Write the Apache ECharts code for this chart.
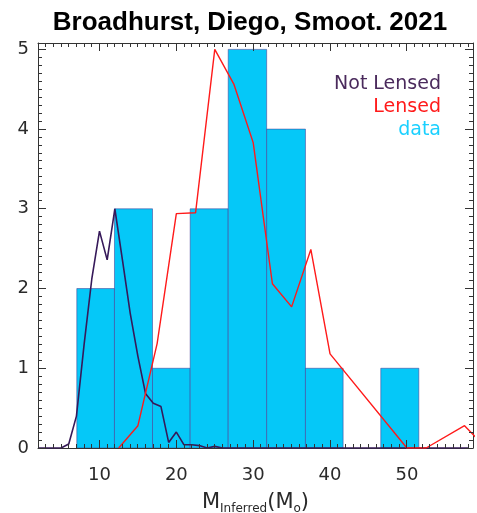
<!DOCTYPE html>
<html>
<head>
<meta charset="utf-8">
<title>Broadhurst, Diego, Smoot. 2021</title>
<script src="https://cdn.jsdelivr.net/npm/echarts@6/dist/echarts.min.js"></script>
<style>
  html, body { margin: 0; padding: 0; background: #ffffff; }
  #chart { width: 477px; height: 513px; }
</style>
</head>
<body>
<div id="chart"></div>
<script>
// Histogram of inferred masses: bin edges and counts
const binEdges = [7.05, 11.95, 16.9, 21.8, 26.75, 31.75, 36.8, 41.7, 46.6, 51.55];
const binCounts = [2, 3, 1, 3, 5, 4, 1, 0, 1];

// Model curves as [mass, value] pairs
const notLensed = [
  [2, 0], [3, 0], [4, 0], [5, 0], [6, 0.05], [7, 0.4], [8, 1.3], [9, 2.12],
  [10, 2.72], [11, 2.36], [12, 3.0], [13, 2.35], [14, 1.69], [15, 1.15],
  [16, 0.68], [17, 0.56], [18, 0.52], [19, 0.07], [20, 0.2], [21, 0.04],
  [22, 0.04], [23, 0.03], [24, 0], [25, 0.02], [26, 0], [58, 0]
];
const lensed = [
  [12.5, 0], [15, 0.28], [17.5, 1.31], [20, 2.94], [22.5, 2.95], [25, 5.0],
  [27.5, 4.56], [30, 3.83], [32.5, 2.06], [35, 1.77], [37.5, 2.49], [40, 1.18],
  [50, 0], [52.5, 0], [57.5, 0.28], [60, 0.03]
];

// Axis tick values
const xMajorTicks = [10, 20, 30, 40, 50];
const yMajorTicks = [0, 1, 2, 3, 4, 5];
const legendItems = ['Not Lensed', 'Lensed', 'data'];

const X_MIN = 2, X_MAX = 58.6, Y_MIN = 0, Y_MAX = 5.08;
const MAJOR_LEN = 8, MINOR_LEN = 4;
const frameColor = '#333333';
const labelFont = { color: '#2a2a2a', fontFamily: 'DejaVu Sans', fontSize: 18 };

// Minor ticks: every unit along x, every tenth along y
const xMinorTicks = [];
for (let v = Math.ceil(X_MIN); v <= Math.floor(X_MAX); v++) {
  if (xMajorTicks.indexOf(v) < 0) xMinorTicks.push(v);
}
const yMinorTicks = [];
for (let i = 1; i < 50; i++) { if (i % 10 !== 0) yMinorTicks.push(i / 10); }

// Tick marks on all four sides of the frame, pointing inward
const xTickData = xMajorTicks.map(v => [v, Y_MIN, MAJOR_LEN])
  .concat(xMinorTicks.map(v => [v, Y_MIN, MINOR_LEN]));
const yTickData = yMajorTicks.map(v => [X_MIN, v, MAJOR_LEN])
  .concat(yMinorTicks.map(v => [X_MIN, v, MINOR_LEN]));

const crisp = p => Math.round(p - 0.5) + 0.5;

function frameAxis(position, min, max, extra) {
  return Object.assign({
    type: 'value', position: position, min: min, max: max,
    axisLine: { show: true, onZero: false, lineStyle: { color: frameColor, width: 1 } },
    axisTick: { show: false },
    axisLabel: { show: false },
    splitLine: { show: false }
  }, extra || {});
}

const chart = echarts.init(document.getElementById('chart'), null, { renderer: 'canvas' });

chart.setOption({
  animation: false,
  backgroundColor: '#ffffff',
  grid: { left: 38, right: 4, top: 43, bottom: 65, containLabel: false, outerBoundsMode: 'none' },
  xAxis: [
    frameAxis('bottom', X_MIN, X_MAX, {
      axisLabel: Object.assign({ show: true, customValues: xMajorTicks, margin: 18 }, labelFont),
      name: '{m|M}{s|Inferred}{m|(M}{s|o}{m|)}',
      nameLocation: 'middle',
      nameGap: 43,
      nameTextStyle: {
        rich: {
          m: { fontFamily: 'DejaVu Sans', fontSize: 21, color: '#2a2a2a', lineHeight: 24, verticalAlign: 'middle' },
          s: { fontFamily: 'DejaVu Sans', fontSize: 12, color: '#2a2a2a', lineHeight: 2, verticalAlign: 'bottom' }
        }
      }
    }),
    frameAxis('top', X_MIN, X_MAX)
  ],
  yAxis: [
    frameAxis('left', Y_MIN, Y_MAX, {
      axisLabel: Object.assign({ show: true, customValues: yMajorTicks, margin: 9 }, labelFont)
    }),
    frameAxis('right', Y_MIN, Y_MAX)
  ],
  graphic: [
    { type: 'text', z: 10,
      style: { text: 'Broadhurst, Diego, Smoot. 2021', x: 250, y: 23,
        align: 'center', verticalAlign: 'middle',
        font: 'bold 26px "Liberation Sans", Arial, sans-serif', fill: '#000000' } },
    { type: 'text', z: 10,
      style: { text: legendItems[0], x: 441, y: 84, align: 'right', verticalAlign: 'middle',
        font: '19px "DejaVu Sans"', fill: '#4a2a5c' } },
    { type: 'text', z: 10,
      style: { text: legendItems[1], x: 441, y: 107, align: 'right', verticalAlign: 'middle',
        font: '19px "DejaVu Sans"', fill: '#ff1a1a' } },
    { type: 'text', z: 10,
      style: { text: legendItems[2], x: 441, y: 130, align: 'right', verticalAlign: 'middle',
        font: '19px "DejaVu Sans"', fill: '#1ad0ff' } }
  ],
  series: [
    {
      name: 'data',
      type: 'custom',
      xAxisIndex: 0, yAxisIndex: 0,
      clip: true,
      z: 1,
      data: binCounts.map((c, i) => [binEdges[i], binEdges[i + 1], c]),
      encode: { x: [0, 1], y: 2 },
      renderItem: function (params, api) {
        const h = api.value(2);
        if (h <= 0) return null;
        const p0 = api.coord([api.value(0), 0]);
        const p1 = api.coord([api.value(1), h]);
        return {
          type: 'rect',
          shape: { x: p0[0], y: p1[1], width: p1[0] - p0[0], height: p0[1] - p1[1] },
          style: { fill: '#05c8f8', stroke: 'rgba(70,60,150,0.55)', lineWidth: 1 }
        };
      }
    },
    {
      name: 'Not Lensed',
      type: 'line',
      xAxisIndex: 0, yAxisIndex: 0,
      data: notLensed,
      symbol: 'none',
      z: 3,
      lineStyle: { color: '#36195a', width: 1.6 }
    },
    {
      name: 'Lensed',
      type: 'line',
      xAxisIndex: 0, yAxisIndex: 0,
      data: lensed,
      symbol: 'none',
      clip: true,
      z: 4,
      lineStyle: { color: '#ff1a1a', width: 1.4 }
    },
    {
      // x ticks on the bottom and top edges
      type: 'custom',
      xAxisIndex: 0, yAxisIndex: 0,
      silent: true, clip: false, z: 6,
      data: xTickData,
      encode: { x: 0, y: 1 },
      renderItem: function (params, api) {
        const v = api.value(0), len = api.value(2);
        const b = api.coord([v, Y_MIN]);
        const t = api.coord([v, Y_MAX]);
        const x = crisp(b[0]);
        const st = { stroke: frameColor, lineWidth: 1 };
        return { type: 'group', children: [
          { type: 'line', shape: { x1: x, y1: b[1], x2: x, y2: b[1] - len }, style: st },
          { type: 'line', shape: { x1: x, y1: t[1], x2: x, y2: t[1] + len }, style: st }
        ] };
      }
    },
    {
      // y ticks on the left and right edges
      type: 'custom',
      xAxisIndex: 0, yAxisIndex: 0,
      silent: true, clip: false, z: 6,
      data: yTickData,
      encode: { x: 0, y: 1 },
      renderItem: function (params, api) {
        const v = api.value(1), len = api.value(2);
        const l = api.coord([X_MIN, v]);
        const r = api.coord([X_MAX, v]);
        const y = crisp(l[1]);
        const st = { stroke: frameColor, lineWidth: 1 };
        return { type: 'group', children: [
          { type: 'line', shape: { x1: l[0], y1: y, x2: l[0] + len, y2: y }, style: st },
          { type: 'line', shape: { x1: r[0], y1: y, x2: r[0] - len, y2: y }, style: st }
        ] };
      }
    }
  ]
});
</script>
</body>
</html>
